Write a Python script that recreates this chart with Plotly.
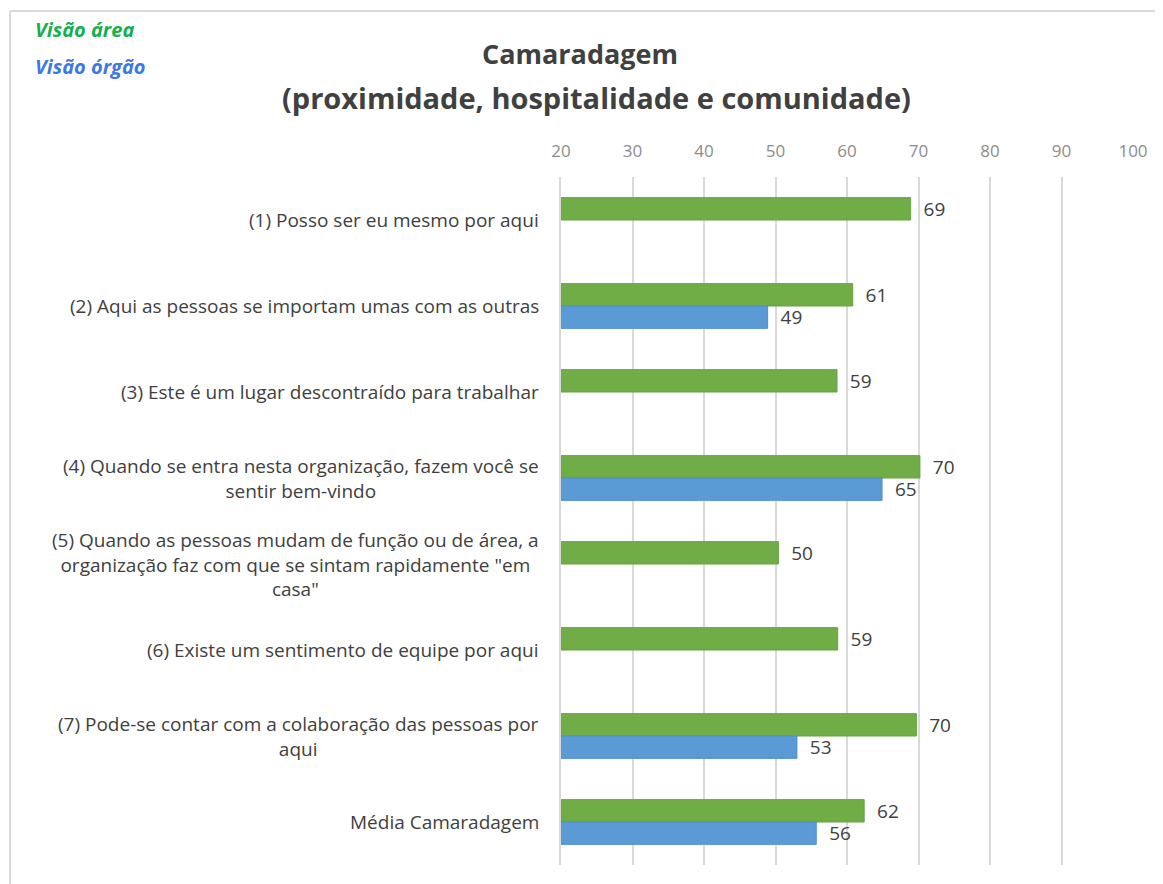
import plotly.graph_objects as go

categories = [
    "(1) Posso ser eu mesmo por aqui",
    "(2) Aqui as pessoas se importam umas com as outras",
    "(3) Este é um lugar descontraído para trabalhar",
    "(4) Quando se entra nesta organização, fazem você se<br>sentir bem-vindo",
    "(5) Quando as pessoas mudam de função ou de área, a<br>organização faz com que se sintam rapidamente \"em<br>casa\"",
    "(6) Existe um sentimento de equipe por aqui",
    "(7) Pode-se contar com a colaboração das pessoas por<br>aqui",
    "Média Camaradagem",
]
cat_keys = [f"c{i}" for i in range(len(categories))]
visao_area = [68.9, 60.8, 58.6, 70.2, 50.4, 58.7, 69.7, 62.4]
visao_orgao = [None, 48.9, None, 64.9, None, None, 53.0, 55.7]
x_ticks = [20, 30, 40, 50, 60, 70, 80, 90, 100]

# page body has an 8px margin; figure size/margins compensate for it
OFF = 8
W, H = 1163 - OFF, 884 - OFF
ML, MT = 561 - OFF, 177 - OFF
MR = W - (1133 - OFF)
MB = H - (865 - OFF)
PW, PH = W - ML - MR, H - MT - MB


def px_x(screen):
    return (screen - OFF - ML) / PW


def px_y(screen):
    return (H - MB - (screen - OFF)) / PH


FONT = "Open Sans, Noto Sans, sans-serif"
TXT = "#404040"
GRID = "#D9D9D9"

fig = go.Figure()
fig.add_trace(go.Bar(
    y=cat_keys, x=visao_area, orientation="h", name="Visão área",
    marker=dict(color="#70AD47", line=dict(color="#66A040", width=1)),
    texttemplate="\u00a0\u00a0%{x:.0f}", textposition="outside",
    constraintext="none",
    textfont=dict(size=19, color=TXT, family=FONT), cliponaxis=False,
))
fig.add_trace(go.Bar(
    y=cat_keys, x=visao_orgao, orientation="h", name="Visão órgão",
    marker=dict(color="#5B9BD5", line=dict(color="#4F8FC9", width=1)),
    texttemplate="\u00a0\u00a0%{x:.0f}", textposition="outside",
    constraintext="none",
    textfont=dict(size=19, color=TXT, family=FONT), cliponaxis=False,
))

annotations = []
for key, label in zip(cat_keys, categories):
    annotations.append(dict(
        x=px_x(541), xref="paper", y=key, yref="y", text=label,
        xanchor="right", yanchor="middle", align="center", showarrow=False,
        font=dict(size=19, color=TXT, family=FONT),
    ))

annotations += [
    dict(x=px_x(596), xref="paper", y=px_y(98), yref="paper",
         text="<b>(proximidade, hospitalidade e comunidade)</b>",
         showarrow=False, xanchor="center", yanchor="middle",
         font=dict(size=29, color=TXT, family=FONT)),
    dict(x=px_x(33), xref="paper", y=px_y(30), yref="paper",
         text="<b><i>Visão área</i></b>", showarrow=False,
         xanchor="left", yanchor="middle",
         font=dict(size=20, color="#14B04E", family=FONT)),
    dict(x=px_x(33), xref="paper", y=px_y(66), yref="paper",
         text="<b><i>Visão órgão</i></b>", showarrow=False,
         xanchor="left", yanchor="middle",
         font=dict(size=20, color="#3B78E6", family=FONT)),
]

shapes = [
    dict(type="line", xref="paper", yref="paper",
         x0=px_x(10), x1=px_x(1175), y0=px_y(11), y1=px_y(11),
         line=dict(color=GRID, width=2)),
    dict(type="line", xref="paper", yref="paper",
         x0=px_x(10), x1=px_x(10), y0=px_y(11), y1=px_y(900),
         line=dict(color=GRID, width=2)),
]

fig.update_layout(
    width=W, height=H,
    margin=dict(l=ML, r=MR, t=MT, b=MB, pad=0),
    paper_bgcolor="white", plot_bgcolor="white",
    barmode="group", bargap=0.48, bargroupgap=0,
    showlegend=False,
    title=dict(text="<b>Camaradagem</b>", x=(580 - OFF) / W,
               xanchor="center", y=1 - (55 - OFF) / H, yanchor="middle",
               font=dict(size=27, color=TXT, family=FONT)),
    xaxis=dict(range=[20, 100], side="top", tickvals=x_ticks,
               showgrid=True, gridcolor=GRID, gridwidth=2,
               zeroline=False, showline=False,
               ticks="outside", ticklen=12, tickcolor="rgba(0,0,0,0)",
               tickfont=dict(size=17, color="#8C8C8C", family=FONT)),
    yaxis=dict(autorange="reversed", showticklabels=False,
               showgrid=False, zeroline=False,
               showline=True, linecolor=GRID, linewidth=2),
    annotations=annotations, shapes=shapes,
    font=dict(family=FONT, color=TXT),
)

fig.write_html("out.html")
